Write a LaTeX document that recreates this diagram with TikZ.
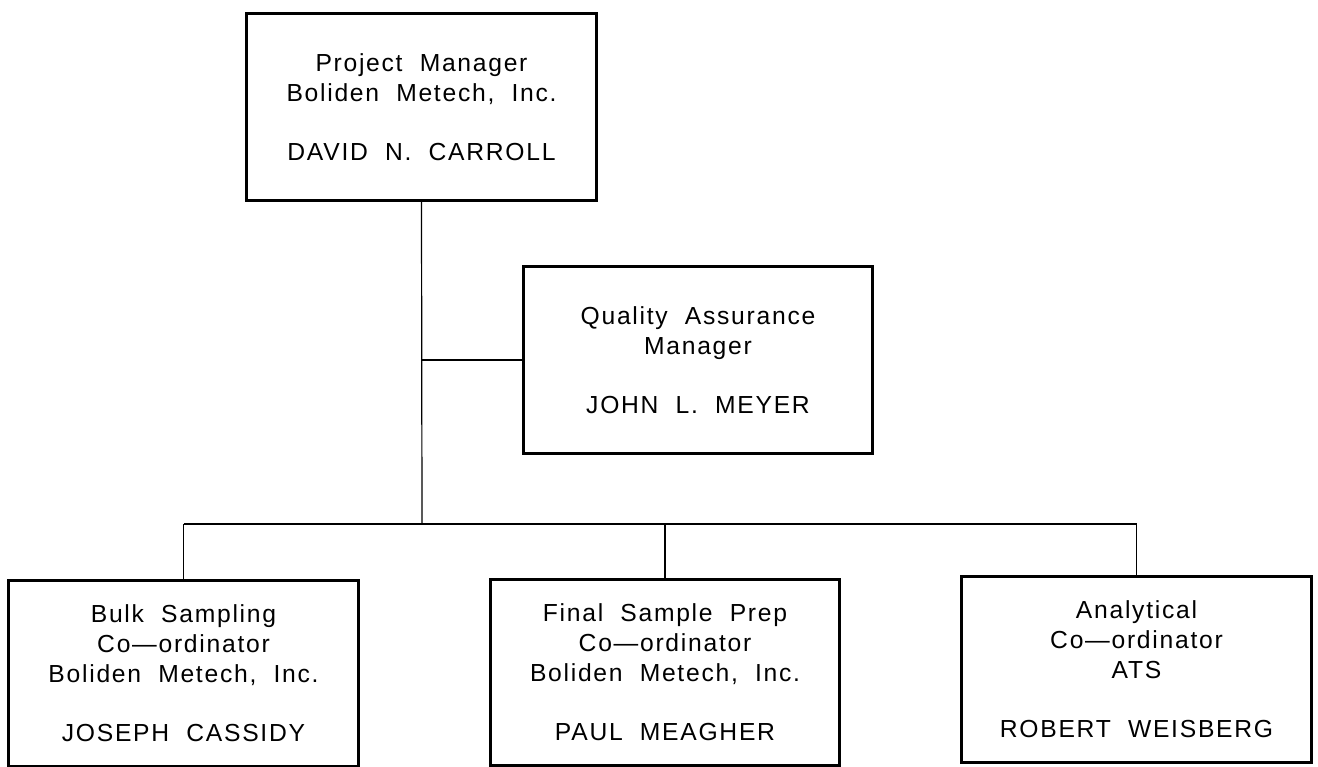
\documentclass[tikz,border=0pt]{standalone}
\usepackage{fontspec}
\setmainfont[LetterSpace=7,WordSpace=2]{Liberation Sans}
\usepackage{tikz}
\usetikzlibrary{positioning}

\begin{document}
\begin{tikzpicture}[x=0.75pt, y=-0.75pt,
  font=\fontsize{18.5}{22.5}\selectfont,
  org/.style={draw=black, line width=2.2pt, fill=white, align=center, inner sep=0pt, minimum width=262pt, minimum height=140pt},
  link/.style={draw=black, line width=0.9pt}]
\useasboundingbox (0,0) rectangle (1318,767);
\node[org] (pm)   at (421.5,107) {Project Manager\\Boliden Metech, Inc.\\[22pt]DAVID N. CARROLL};
\node[org] (qa)   at (698,360)   {Quality Assurance\\Manager\\[22pt]JOHN L. MEYER};
\node[org] (bulk) at (183.5,673.5) {Bulk Sampling\\Co---ordinator\\Boliden Metech, Inc.\\[22pt]JOSEPH CASSIDY};
\node[org] (prep) at (665,672.5) {Final Sample Prep\\Co---ordinator\\Boliden Metech, Inc.\\[22pt]PAUL MEAGHER};
\node[org] (ana)  at (1136.5,669.5) {Analytical\\Co---ordinator\\ATS\\[22pt]ROBERT WEISBERG};
\coordinate (bus) at (422,524);
\draw[link] (pm.south) -- (bus);
\draw[link] (pm.south |- qa.west) -- (qa.west);
\draw[link] (bulk.north |- bus) -- (ana.north |- bus);
\foreach \n in {bulk,prep,ana}
  \draw[link] (\n.north |- bus) -- (\n.north);
\end{tikzpicture}
\end{document}
